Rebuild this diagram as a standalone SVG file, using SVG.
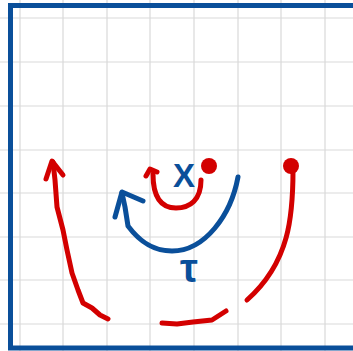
<svg xmlns="http://www.w3.org/2000/svg" width="353" height="351" viewBox="0 0 353 351">
<style>
.grid{stroke:#d9d9d9;stroke-width:1.2;fill:none}
.red{stroke:#d30000;stroke-width:5;fill:none;stroke-linecap:round;stroke-linejoin:round}
.blue{stroke:#0a4f9a;stroke-width:5;fill:none;stroke-linecap:round;stroke-linejoin:round}
.lbl{fill:#0a4f9a;font-family:"Liberation Sans",Arial,sans-serif;font-weight:bold}
</style>
<rect width="353" height="351" fill="#ffffff"/>
<g id="grid" class="grid">
<path d="M0 18H353M0 62H353M0 106H353M0 150H353M0 193H353M0 237H353M0 280H353M0 324H353"/>
<path d="M20 0V351M63 0V351M107 0V351M150 0V351M194 0V351M238 0V351M281 0V351M325 0V351"/>
</g>
<rect id="frame" x="10.5" y="5.5" width="345" height="342.5" fill="none" stroke="#0a4f9a" stroke-width="5"/>
<g id="left-arrow">
<path class="red" d="M108 319 L100 315 L92 308 L83 303 L78 290 L72 273 L67 250 L63 230 L57 207 L55 180 L53 162"/>
<path class="red" d="M46 179 L52 161 L63 175"/>
</g>
<g id="bottom-stroke">
<path class="red" d="M162 323 L177 324 L193 322 L212 320 L226 311"/>
</g>
<g id="right-stroke">
<circle cx="291" cy="166" r="8" fill="#d30000"/>
<path class="red" d="M293 170 C293 215 290 262 247 300"/>
</g>
<g id="small-arc">
<circle cx="209" cy="166" r="8" fill="#d30000"/>
<path class="red" d="M201 180 C201 200 190 208 176 208 C160 208 153 196 153 174"/>
<path class="red" d="M146 176 L150 169 L157 172"/>
</g>
<g id="blue-arc">
<path class="blue" d="M238 177 C231 215 205 251 172 251 C150 251 137 238 128 226 L125 207 L122 193"/>
<path class="blue" d="M115 217 L122 192 L143 201"/>
</g>
<g id="labels">
<text class="lbl" x="184" y="187" font-size="33" text-anchor="middle">X</text>
<text class="lbl" x="189" y="282" font-size="40" text-anchor="middle">τ</text>
</g>
</svg>
